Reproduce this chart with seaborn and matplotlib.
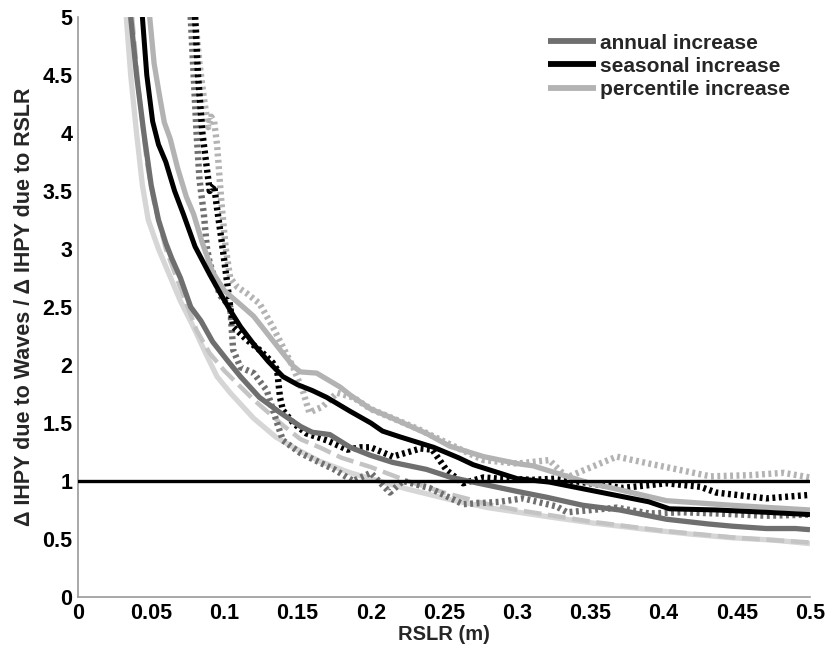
import numpy as np
import pandas as pd
import matplotlib
matplotlib.use("Agg")
import matplotlib.pyplot as plt
import seaborn as sns

# --- data: ratio of IHPY change due to waves vs. due to RSLR ---
annual_x = [0.036, 0.040, 0.045, 0.050, 0.055, 0.060, 0.064, 0.070, 0.077, 0.084, 0.092, 0.102,
            0.111, 0.124, 0.138, 0.152, 0.160, 0.172, 0.186, 0.200, 0.215, 0.238, 0.255, 0.270,
            0.300, 0.320, 0.345, 0.370, 0.402, 0.430, 0.447, 0.470, 0.490, 0.500]
annual_y = [5.0, 4.5, 4.0, 3.55, 3.25, 3.05, 2.92, 2.75, 2.5, 2.38, 2.2, 2.04,
            1.9, 1.72, 1.59, 1.47, 1.42, 1.40, 1.29, 1.22, 1.16, 1.10, 1.03, 0.99,
            0.91, 0.86, 0.79, 0.75, 0.67, 0.63, 0.61, 0.59, 0.59, 0.58]

seasonal_x = [0.044, 0.047, 0.051, 0.055, 0.060, 0.066, 0.072, 0.080, 0.090, 0.098, 0.105, 0.111,
              0.120, 0.130, 0.140, 0.150, 0.160, 0.170, 0.186, 0.200, 0.208, 0.220, 0.243, 0.260,
              0.270, 0.290, 0.300, 0.322, 0.350, 0.370, 0.390, 0.404, 0.436, 0.470, 0.500]
seasonal_y = [5.0, 4.5, 4.1, 3.9, 3.75, 3.5, 3.3, 3.02, 2.78, 2.6, 2.45, 2.33,
              2.18, 2.03, 1.9, 1.83, 1.78, 1.72, 1.6, 1.5, 1.43, 1.38, 1.29, 1.2,
              1.14, 1.06, 1.02, 0.99, 0.92, 0.87, 0.82, 0.76, 0.75, 0.73, 0.71]

percentile_x = [0.049, 0.052, 0.056, 0.059, 0.063, 0.068, 0.074, 0.079, 0.085, 0.092, 0.100, 0.111,
                0.120, 0.130, 0.140, 0.147, 0.152, 0.163, 0.179, 0.186, 0.200, 0.215, 0.238, 0.254,
                0.277, 0.300, 0.311, 0.334, 0.350, 0.368, 0.402, 0.447, 0.500]
percentile_y = [5.0, 4.6, 4.3, 4.09, 3.95, 3.7, 3.45, 3.3, 3.05, 2.8, 2.64, 2.52,
                2.42, 2.26, 2.1, 1.99, 1.94, 1.93, 1.81, 1.74, 1.62, 1.54, 1.41, 1.3,
                1.21, 1.15, 1.13, 1.04, 0.98, 0.93, 0.83, 0.79, 0.75]

percentile_low_x = [0.033, 0.036, 0.040, 0.044, 0.048, 0.055, 0.064, 0.070, 0.078, 0.088, 0.095,
                    0.104, 0.120, 0.135, 0.150, 0.165, 0.186, 0.200, 0.225, 0.254, 0.280, 0.322,
                    0.350, 0.390, 0.420, 0.447, 0.475, 0.500]
percentile_low_y = [5.0, 4.5, 4.0, 3.55, 3.25, 3.0, 2.73, 2.55, 2.35, 2.08, 1.9,
                    1.76, 1.54, 1.38, 1.27, 1.17, 1.07, 1.02, 0.93, 0.84, 0.77, 0.69,
                    0.64, 0.58, 0.54, 0.51, 0.49, 0.46]

percentile_mid_x = [0.037, 0.042, 0.047, 0.052, 0.060, 0.068, 0.081, 0.090, 0.100, 0.120, 0.140,
                    0.152, 0.165, 0.180, 0.200, 0.225, 0.250, 0.280, 0.300, 0.350, 0.400, 0.450, 0.500]
percentile_mid_y = [5.0, 4.3, 3.75, 3.4, 3.0, 2.73, 2.3, 2.1, 1.95, 1.7, 1.48,
                    1.36, 1.29, 1.2, 1.12, 1.0, 0.9, 0.8, 0.75, 0.65, 0.57, 0.51, 0.47]

annual_dot_x = [0.077, 0.079, 0.081, 0.083, 0.086, 0.088, 0.090, 0.097, 0.104, 0.106, 0.111, 0.120,
                0.129, 0.136, 0.140, 0.152, 0.165, 0.175, 0.184, 0.188, 0.200, 0.213, 0.222, 0.240,
                0.263, 0.288, 0.304, 0.327, 0.334, 0.368, 0.390, 0.413, 0.436, 0.470, 0.500]
annual_dot_y = [5.0, 4.5, 4.0, 3.6, 3.3, 3.02, 2.88, 2.6, 2.5, 2.13, 1.98, 1.93,
                1.78, 1.5, 1.35, 1.24, 1.16, 1.1, 1.03, 1.0, 1.07, 0.9, 1.0, 0.94,
                0.8, 0.82, 0.85, 0.78, 0.73, 0.77, 0.72, 0.73, 0.72, 0.7, 0.71]

seasonal_dot_x = [0.080, 0.082, 0.085, 0.088, 0.090, 0.093, 0.095, 0.099, 0.102, 0.104, 0.106, 0.115,
                  0.124, 0.133, 0.136, 0.138, 0.140, 0.147, 0.156, 0.170, 0.184, 0.193, 0.200, 0.215,
                  0.234, 0.242, 0.252, 0.263, 0.277, 0.288, 0.311, 0.327, 0.350, 0.372, 0.402, 0.425,
                  0.436, 0.470, 0.500]
seasonal_dot_y = [5.0, 4.5, 4.0, 3.7, 3.5, 3.55, 3.35, 2.99, 2.7, 2.5, 2.33, 2.22,
                  2.13, 2.02, 1.96, 1.72, 1.61, 1.5, 1.41, 1.35, 1.27, 1.29, 1.29, 1.21,
                  1.28, 1.27, 1.09, 0.98, 1.03, 1.02, 1.01, 1.02, 0.98, 0.94, 0.98, 0.95,
                  0.9, 0.85, 0.88]

percentile_dot_x = [0.080, 0.083, 0.086, 0.089, 0.091, 0.093, 0.095, 0.098, 0.101, 0.104, 0.109, 0.115,
                    0.124, 0.133, 0.147, 0.154, 0.158, 0.167, 0.177, 0.188, 0.200, 0.232, 0.260, 0.277,
                    0.300, 0.322, 0.334, 0.345, 0.368, 0.390, 0.413, 0.432, 0.459, 0.482, 0.500]
percentile_dot_y = [5.0, 4.6, 4.3, 4.05, 4.14, 4.1, 3.9, 3.4, 3.0, 2.75, 2.67, 2.62,
                    2.53, 2.33, 1.98, 1.76, 1.59, 1.64, 1.76, 1.72, 1.62, 1.45, 1.28, 1.18,
                    1.15, 1.18, 1.03, 1.09, 1.21, 1.15, 1.09, 1.04, 1.05, 1.07, 1.03]

legend_labels = ["annual increase", "seasonal increase", "percentile increase"]
x_ticks = [0, 0.05, 0.1, 0.15, 0.2, 0.25, 0.3, 0.35, 0.4, 0.45, 0.5]
x_tick_labels = ["0", "0.05", "0.1", "0.15", "0.2", "0.25", "0.3", "0.35", "0.4", "0.45", "0.5"]
y_ticks = [0, 0.5, 1, 1.5, 2, 2.5, 3, 3.5, 4, 4.5, 5]
y_tick_labels = ["0", "0.5", "1", "1.5", "2", "2.5", "3", "3.5", "4", "4.5", "5"]

# --- styling ---
sns.set_theme(style="white")
plt.rcParams["font.family"] = ["Liberation Sans", "DejaVu Sans"]
plt.rcParams["font.weight"] = "bold"

C_ANNUAL = "#6f6f6f"
C_SEASONAL = "#000000"
C_PERC = "#b3b3b3"
C_PERC_LOW = "#d6d6d6"
C_PERC_MID = "#c4c4c4"

fig = plt.figure(figsize=(8.25, 6.52), dpi=100)
ax = fig.add_axes([0.0945, 0.0844, 0.8873, 0.8896])


def draw(xs, ys, color, lw, dashes=None, label=None, z=2):
    df = pd.DataFrame({"x": xs, "y": ys})
    sns.lineplot(data=df, x="x", y="y", ax=ax, color=color, linewidth=lw,
                 sort=False, estimator=None, label=label, legend=False, zorder=z)
    line = ax.get_lines()[-1]
    if dashes is not None:
        line.set_dashes(dashes)
        line.set_dash_capstyle("butt")
    line.set_solid_capstyle("butt")
    return line


draw(percentile_low_x, percentile_low_y, C_PERC_LOW, 3.8, z=2)
draw(percentile_mid_x, percentile_mid_y, C_PERC_MID, 3.2, dashes=(4, 1.5), z=2)

dot = (0.45, 0.55)
draw(percentile_dot_x, percentile_dot_y, C_PERC, 4.6, dashes=dot, z=3)
draw(annual_dot_x, annual_dot_y, C_ANNUAL, 4.6, dashes=dot, z=3)
draw(seasonal_dot_x, seasonal_dot_y, C_SEASONAL, 4.6, dashes=dot, z=3)

h_ann = draw(annual_x, annual_y, C_ANNUAL, 3.8, z=4)
h_perc = draw(percentile_x, percentile_y, C_PERC, 3.8, z=4)
h_seas = draw(seasonal_x, seasonal_y, C_SEASONAL, 3.6, z=5)

# reference ratio of one
ax.axhline(1.0, color="black", linewidth=2.4, zorder=6)

ax.set_xlim(0, 0.5)
ax.set_ylim(0, 5)
ax.set_xticks(x_ticks)
ax.set_xticklabels(x_tick_labels)
ax.set_yticks(y_ticks)
ax.set_yticklabels(y_tick_labels)

for side in ["top", "right"]:
    ax.spines[side].set_visible(False)
for side in ["left", "bottom"]:
    ax.spines[side].set_color("#9a9a9a")
    ax.spines[side].set_linewidth(1.2)

ax.tick_params(axis="both", direction="in", length=6, width=1.0, color="#9a9a9a",
               labelsize=15.5, labelcolor="black", pad=4)
for lbl in ax.get_xticklabels() + ax.get_yticklabels():
    lbl.set_fontweight("bold")

ax.set_xlabel("RSLR (m)", fontsize=14.5, fontweight="bold", labelpad=1)
ax.set_ylabel("\u0394 IHPY due to Waves / \u0394 IHPY due to RSLR", fontsize=15.5,
              fontweight="bold", labelpad=5)

leg = ax.legend([h_ann, h_seas, h_perc], legend_labels, loc="upper right",
                bbox_to_anchor=(0.99, 0.993), frameon=False,
                prop={"weight": "bold", "size": 15}, handlelength=2.3,
                handletextpad=0.2, labelspacing=0.2, borderaxespad=0.2)
for h in leg.get_lines():
    h.set_linewidth(4.2)

fig.savefig("out.png", dpi=100)
